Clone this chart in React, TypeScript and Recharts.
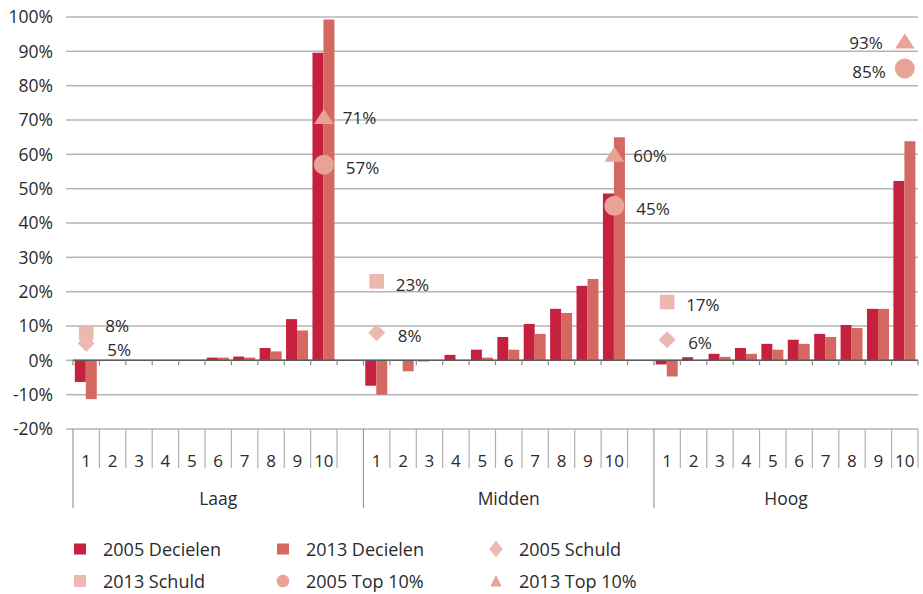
import * as React from "react"
import { Bar, CartesianGrid, ComposedChart, Line, ReferenceLine, XAxis, YAxis } from "recharts"

const groups = ["Laag", "Midden", "Hoog"]
const deciles = ["1", "2", "3", "4", "5", "6", "7", "8", "9", "10"]

const decielen2005Laag = [-6.3, 0, 0, 0, 0, 0.8, 1.1, 3.6, 12.0, 89.6]
const decielen2013Laag = [-11.3, 0, 0, 0, 0, 0.8, 0.8, 2.6, 8.7, 99.3]
const decielen2005Midden = [-7.4, 0, -0.3, 1.6, 3.1, 6.8, 10.6, 15.0, 21.7, 48.6]
const decielen2013Midden = [-10.0, -3.2, 0, 0, 0.8, 3.1, 7.7, 13.8, 23.7, 65.0]
const decielen2005Hoog = [-1.2, 0.9, 1.9, 3.6, 4.8, 6.0, 7.7, 10.3, 15.0, 52.2]
const decielen2013Hoog = [-4.7, -0.2, 1.0, 1.9, 3.1, 4.8, 6.8, 9.4, 15.0, 63.8]

// schuld markers sit on decile 1, top 10% markers on decile 10
const schuld2005 = [5, 8, 6]
const schuld2013 = [8, 23, 17]
const top2005 = [57, 45, 85]
const top2013 = [71, 60, 93]

const yTicks = [-20, -10, 0, 10, 20, 30, 40, 50, 60, 70, 80, 90, 100]

const COLOR_2005 = "#c6203f"
const COLOR_2013 = "#d56962"
const COLOR_TOP = "#e8a397"
const COLOR_SCHULD = "#ecb9b0"
const TEXT = "#2b2b2b"
const FONT = "'Open Sans', sans-serif"

const W = 923
const H = 594
const TOP = 17
const RIGHT = 5
const Y_W = 73
const X_H = 165
const PLOT_W = W - Y_W - RIGHT
const PLOT_H = H - TOP - X_H
const ZERO_Y = TOP + (PLOT_H * 100) / 120

type Row = {
  key: string
  group: string
  groupIndex: number
  decile: string
  d2005: number | null
  d2013: number | null
  s2005: number | null
  s2013: number | null
  t2005: number | null
  t2013: number | null
}

const series2005 = [decielen2005Laag, decielen2005Midden, decielen2005Hoog]
const series2013 = [decielen2013Laag, decielen2013Midden, decielen2013Hoog]

const rows: Row[] = []
groups.forEach((g, gi) => {
  deciles.forEach((d, di) => {
    rows.push({
      key: `${g}-${d}`,
      group: g,
      groupIndex: gi,
      decile: d,
      d2005: series2005[gi][di],
      d2013: series2013[gi][di],
      s2005: di === 0 ? schuld2005[gi] : null,
      s2013: di === 0 ? schuld2013[gi] : null,
      t2005: di === 9 ? top2005[gi] : null,
      t2013: di === 9 ? top2013[gi] : null,
    })
  })
  if (gi < groups.length - 1) {
    rows.push({
      key: `${g}-gap`,
      group: g,
      groupIndex: gi,
      decile: "",
      d2005: null,
      d2013: null,
      s2005: null,
      s2013: null,
      t2005: null,
      t2013: null,
    })
  }
})

const SLOT = PLOT_W / rows.length

function DecileTick(props: any) {
  const { x, y, payload } = props
  const i = payload.index
  const row = rows[i]
  const half = SLOT / 2
  const slotsInGroup = rows.filter((r) => r.group === row.group).length
  const posInGroup = rows.filter((r, j) => j < i && r.group === row.group).length
  const mid = Math.floor(slotsInGroup / 2)
  const isFirst = posInGroup === 0
  const isGap = row.decile === ""
  return (
    <g>
      {/* small ticks under the zero line */}
      <line x1={x + half} x2={x + half} y1={ZERO_Y} y2={ZERO_Y + 5} stroke="#8a8a8a" strokeWidth={1.2} />
      {i === 0 && <line x1={x - half} x2={x - half} y1={ZERO_Y} y2={ZERO_Y + 5} stroke="#8a8a8a" strokeWidth={1.2} />}
      {isFirst && <line x1={x - half} x2={x - half} y1={y} y2={y + 79} stroke="#9a9a9a" strokeWidth={1.2} />}
      {!isGap && <line x1={x + half} x2={x + half} y1={y} y2={y + 39} stroke="#b0b0b0" strokeWidth={1.2} />}
      {!isGap && (
        <text x={x} y={y + 38} textAnchor="middle" fontSize={17} fill={TEXT} fontFamily={FONT}>
          {row.decile}
        </text>
      )}
      {posInGroup === mid && (
        <text
          x={slotsInGroup % 2 === 1 ? x : x - half}
          y={y + 76}
          textAnchor="middle"
          fontSize={17.5}
          fill={TEXT}
          fontFamily={FONT}
        >
          {row.group}
        </text>
      )}
    </g>
  )
}

function pctLabel(cx: number, cy: number, value: number, index: number, dy: number) {
  const last = index === rows.length - 1
  return (
    <text
      x={last ? cx - 22 : cx + 19}
      y={cy + dy}
      textAnchor={last ? "end" : "start"}
      dominantBaseline="central"
      fontSize={17}
      fill={TEXT}
      fontFamily={FONT}
    >
      {`${value}%`}
    </text>
  )
}

// nudge the two schuld labels apart when they would overlap
function schuldDy(index: number, which: "s2005" | "s2013") {
  const r = rows[index]
  if (r.s2005 != null && r.s2013 != null && Math.abs(r.s2013 - r.s2005) < 5) {
    return which === "s2013" ? -7 : 6
  }
  return 3
}

function TriangleDot(props: any) {
  const { cx, cy, value, index } = props
  if (value == null || cy == null) return <g key={`t13-${index}`} />
  return (
    <g key={`t13-${index}`}>
      <polygon points={`${cx},${cy - 7.5} ${cx - 9.8},${cy + 7.5} ${cx + 9.8},${cy + 7.5}`} fill={COLOR_TOP} />
      {pctLabel(cx, cy, value, index, 1)}
    </g>
  )
}

function CircleDot(props: any) {
  const { cx, cy, value, index } = props
  if (value == null || cy == null) return <g key={`t05-${index}`} />
  return (
    <g key={`t05-${index}`}>
      <circle cx={cx} cy={cy} r={10} fill={COLOR_TOP} />
      {pctLabel(cx + 3, cy, value, index, 3)}
    </g>
  )
}

function SquareDot(props: any) {
  const { cx, cy, value, index } = props
  if (value == null || cy == null) return <g key={`s13-${index}`} />
  return (
    <g key={`s13-${index}`}>
      <rect x={cx - 7.3} y={cy - 7.3} width={14.6} height={14.6} fill={COLOR_SCHULD} />
      {pctLabel(cx, cy, value, index, schuldDy(index, "s2013"))}
    </g>
  )
}

function DiamondDot(props: any) {
  const { cx, cy, value, index } = props
  if (value == null || cy == null) return <g key={`s05-${index}`} />
  return (
    <g key={`s05-${index}`}>
      <polygon points={`${cx},${cy - 8.5} ${cx + 8.5},${cy} ${cx},${cy + 8.5} ${cx - 8.5},${cy}`} fill={COLOR_SCHULD} />
      {pctLabel(cx + 2, cy, value, index, schuldDy(index, "s2005"))}
    </g>
  )
}

const legendItems = [
  { label: "2005 Decielen", shape: "bar", color: COLOR_2005 },
  { label: "2013 Decielen", shape: "bar", color: COLOR_2013 },
  { label: "2005 Schuld", shape: "diamond", color: COLOR_SCHULD },
  { label: "2013 Schuld", shape: "square", color: COLOR_SCHULD },
  { label: "2005 Top 10%", shape: "circle", color: COLOR_TOP },
  { label: "2013 Top 10%", shape: "triangle", color: COLOR_TOP },
]

function LegendIcon({ shape, color }: { shape: string; color: string }) {
  return (
    <svg width={14} height={18} style={{ display: "block" }}>
      {shape === "bar" && <rect x={1} y={3.5} width={12} height={11} fill={color} />}
      {shape === "square" && <rect x={1} y={3} width={12} height={12} fill={color} />}
      {shape === "diamond" && <polygon points="7,0.5 13.5,9 7,17.5 0.5,9" fill={color} />}
      {shape === "circle" && <circle cx={7} cy={9} r={6.3} fill={color} />}
      {shape === "triangle" && <polygon points="7,3 12.5,14.5 1.5,14.5" fill={color} />}
    </svg>
  )
}

export default function App() {
  const colX = [73, 276, 489]
  const rowY = [540, 572]
  return (
    <div style={{ position: "absolute", left: 0, top: 0, width: W, height: H, background: "#fff" }}>
      <ComposedChart
        width={W}
        height={H}
        data={rows}
        margin={{ top: TOP, right: RIGHT, bottom: 0, left: 0 }}
        barGap={0}
        barCategoryGap={1.8}
      >
        <CartesianGrid vertical={false} stroke="#b4b4b4" strokeWidth={1.5} />
        <XAxis
          dataKey="key"
          interval={0}
          height={X_H}
          axisLine={false}
          tickLine={false}
          tickSize={0}
          tickMargin={0}
          tick={<DecileTick />}
        />
        <YAxis
          width={Y_W}
          domain={[-20, 100]}
          ticks={yTicks}
          axisLine={false}
          tickSize={7}
          tickLine={{ stroke: "#b4b4b4", strokeWidth: 1.5 }}
          tickMargin={13}
          tickFormatter={(v) => `${v}%`}
          tick={{ fontSize: 17.5, fill: TEXT, fontFamily: FONT }}
        />
        <ReferenceLine y={0} stroke="#5a5a5a" strokeWidth={1.5} />
        <Bar dataKey="d2005" fill={COLOR_2005} isAnimationActive={false} />
        <Bar dataKey="d2013" fill={COLOR_2013} isAnimationActive={false} />
        <Line dataKey="s2005" stroke="none" dot={DiamondDot} activeDot={false} isAnimationActive={false} />
        <Line dataKey="s2013" stroke="none" dot={SquareDot} activeDot={false} isAnimationActive={false} />
        <Line dataKey="t2005" stroke="none" dot={CircleDot} activeDot={false} isAnimationActive={false} />
        <Line dataKey="t2013" stroke="none" dot={TriangleDot} activeDot={false} isAnimationActive={false} />
      </ComposedChart>
      {legendItems.map((item, i) => (
        <div
          key={item.label}
          style={{
            position: "absolute",
            left: colX[i % 3],
            top: rowY[Math.floor(i / 3)],
            display: "flex",
            alignItems: "center",
            gap: 16,
            fontFamily: FONT,
            fontSize: 18,
            color: TEXT,
            lineHeight: "18px",
            whiteSpace: "nowrap",
          }}
        >
          <LegendIcon shape={item.shape} color={item.color} />
          <span>{item.label}</span>
        </div>
      ))}
    </div>
  )
}
